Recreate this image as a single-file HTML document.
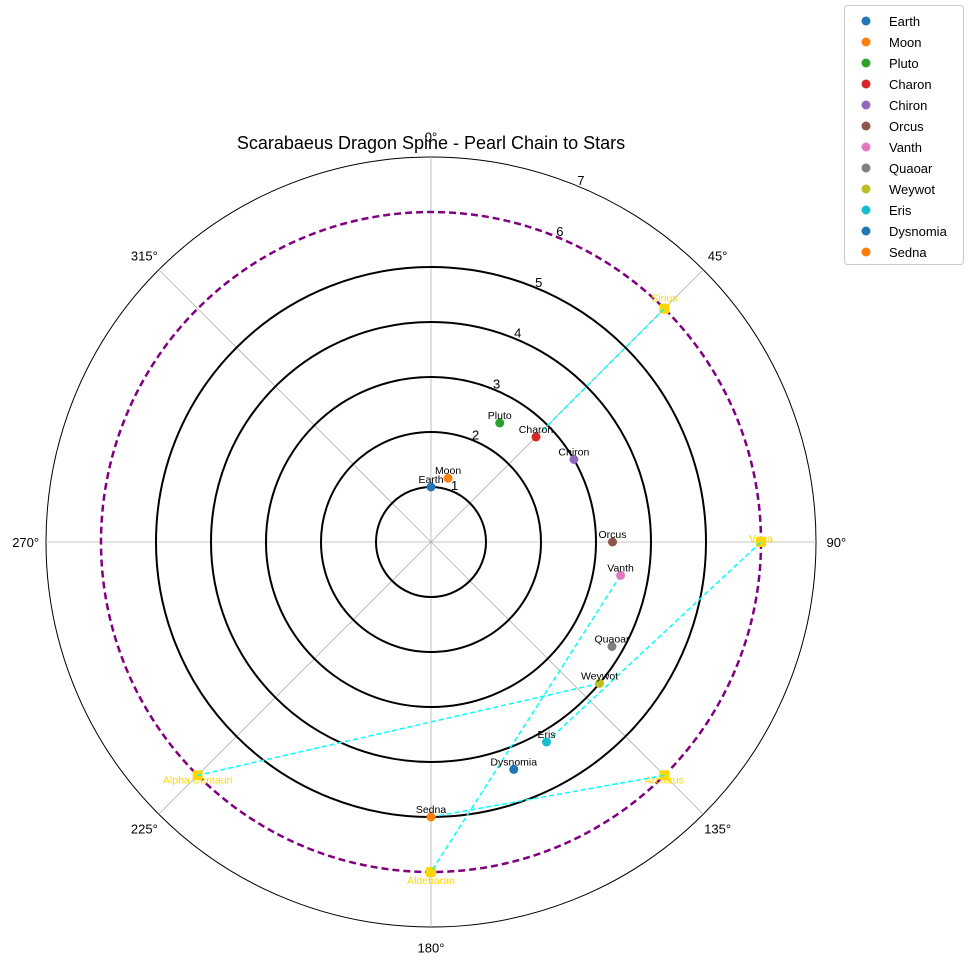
<!DOCTYPE html>
<html><head><meta charset="utf-8">
<style>
body{margin:0;background:#fff;}
svg{font-family:"Liberation Sans","DejaVu Sans",sans-serif;}
</style></head>
<body>
<svg id="chart" width="973" height="963" viewBox="0 0 973 963"></svg>
<script>
const bodies = ["Earth","Moon","Pluto","Charon","Chiron","Orcus","Vanth","Quaoar","Weywot","Eris","Dysnomia","Sedna"];
const bodyAngles = [0,15,30,45,60,90,100,120,130,150,160,180];
const bodyRadii = [1,1.2,2.5,2.7,3.0,3.3,3.5,3.8,4.0,4.2,4.4,5.0];
const bodyColors = ["#1f77b4","#ff7f0e","#2ca02c","#d62728","#9467bd","#8c564b","#e377c2","#7f7f7f","#bcbd22","#17becf","#1f77b4","#ff7f0e"];
const stars = ["Sirius","Vega","Arcturus","Aldebaran","Alpha Centauri"];
const starAngles = [45,90,135,180,225];
const starRadii = [6,6,6,6,6];
const links = [["Charon","Sirius"],["Eris","Vega"],["Vanth","Aldebaran"],["Weywot","Alpha Centauri"],["Sedna","Arcturus"]];
const rTicks = [1,2,3,4,5,6,7];
const angleTicks = [0,45,90,135,180,225,270,315];

const NS="http://www.w3.org/2000/svg";
const svg=document.getElementById('chart');
const cx=431, cy=542, unit=55;
function px(a,r){const t=a*Math.PI/180;return [cx+r*unit*Math.sin(t), cy-r*unit*Math.cos(t)];}
function mk(tag,attrs,parent){const e=document.createElementNS(NS,tag);for(const k in attrs)e.setAttribute(k,attrs[k]);(parent||svg).appendChild(e);return e;}

let e=mk('circle',{cx:cx,cy:cy,r:7*unit,fill:'none',stroke:'#000','stroke-width':1});


angleTicks.forEach(a=>{const p=px(a,7);
 const l=mk('line',{x1:cx,y1:cy,x2:p[0],y2:p[1],stroke:'#b0b0b0','stroke-width':0.8});
 
 
 const q=px(a,7.37);
 const t=mk('text',{x:q[0],y:q[1]+5,'text-anchor':'middle','font-size':13});
 t.textContent=a+'°';
 
 
});
[1,2,3,4,5].forEach(r=>{
 const c=mk('circle',{cx:cx,cy:cy,r:r*unit,fill:'none',stroke:'#000','stroke-width':2});
 
 
});
e=mk('circle',{cx:cx,cy:cy,r:6*unit,fill:'none',stroke:'#800080','stroke-width':2.5,'stroke-dasharray':'7,4'});


rTicks.forEach(r=>{const q=px(22.5,r+0.12);
 const t=mk('text',{x:q[0],y:q[1]+5,'text-anchor':'middle','font-size':13});
 t.textContent=r;
 
 
});
function posOf(n){let i=bodies.indexOf(n);if(i>=0)return px(bodyAngles[i],bodyRadii[i]);i=stars.indexOf(n);return px(starAngles[i],starRadii[i]);}
// stars
stars.forEach((n,i)=>{const p=px(starAngles[i],starRadii[i]);
 const s=mk('rect',{x:p[0]-5,y:p[1]-5,width:10,height:10,rx:2,fill:'#ffd700'});
 
 
 const a=starAngles[i];
 let dy = a===45?-7 : a===90?0 : a===180?12 : 8;
 const t=mk('text',{x:p[0],y:p[1]+dy,'text-anchor':'middle','font-size':10.5,fill:'#ffd700'});
 t.textContent=n;
 
 
});
links.forEach(([a,b])=>{const p=posOf(a),q=posOf(b);
 const l=mk('line',{x1:p[0],y1:p[1],x2:q[0],y2:q[1],stroke:'#00ffff','stroke-width':1.5,'stroke-dasharray':'5,3'});
 
 
});
bodies.forEach((n,i)=>{const p=px(bodyAngles[i],bodyRadii[i]);
 const c=mk('circle',{cx:p[0],cy:p[1],r:4.5,fill:bodyColors[i]});
 
 
 const t=mk('text',{x:p[0],y:p[1]-4,'text-anchor':'middle','font-size':10.5});
 t.textContent=n;
 
 
});
e=mk('text',{x:431,y:149,'text-anchor':'middle','font-size':18});
e.textContent='Scarabaeus Dragon Spine - Pearl Chain to Stars';


const lg=mk('g',{});


mk('rect',{x:844.5,y:5.5,width:119,height:259,rx:3,fill:'#fff',stroke:'#ccc'},lg);
bodies.forEach((n,i)=>{const y=21+i*21;
 const g=mk('g',{},lg);
 
 
 mk('circle',{cx:866,cy:y,r:4.5,fill:bodyColors[i]},g);
 const t=mk('text',{x:889,y:y+5,'font-size':13},g);t.textContent=n;
});
</script>
</body></html>
